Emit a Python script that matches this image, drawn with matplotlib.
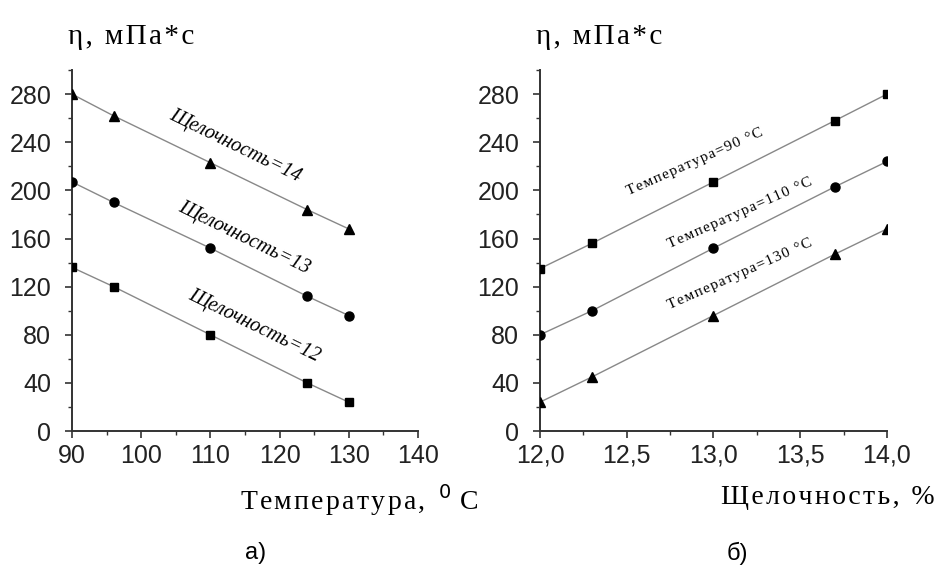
import numpy as np
import matplotlib.pyplot as plt
from matplotlib.ticker import MultipleLocator, FuncFormatter

# panel a) viscosity vs temperature
temp = [90, 96, 110, 124, 130]
alk14 = [280, 262, 223, 184, 168]
alk13 = [207, 190, 152, 112, 96]
alk12 = [136, 120, 80, 40, 24]

# panel b) viscosity vs alkalinity
alk = [12.0, 12.3, 13.0, 13.7, 14.0]
t90 = [135, 156, 207, 258, 280]
t110 = [80, 100, 152, 203, 224]
t130 = [24, 45, 96, 147, 168]

left_labels = ['Щелочность=14', 'Щелочность=13', 'Щелочность=12']
right_labels = ['Температура=90 °C', 'Температура=110 °C', 'Температура=130 °C']

SANS = 'Liberation Sans'
SERIF = 'Liberation Serif'
HAIR = '\u200a'


def spaced(s):
    # wide letter spacing like the scanned original
    return HAIR.join(s)


def style_axes(ax):
    for s in ['top', 'right']:
        ax.spines[s].set_visible(False)
    for s in ['left', 'bottom']:
        ax.spines[s].set_linewidth(1.4)
        ax.spines[s].set_color('#333333')
    ax.set_ylim(0, 300)
    ax.yaxis.set_major_locator(MultipleLocator(40))
    ax.yaxis.set_minor_locator(MultipleLocator(20))
    ax.set_yticks(np.arange(0, 281, 40))
    ax.tick_params(which='major', direction='out', length=5, width=1.2,
                   color='#333333', labelsize=18, labelcolor='#222222')
    ax.tick_params(which='minor', direction='out', length=3, width=1.0,
                   color='#333333')
    ax.xaxis.set_tick_params(which='major', pad=4)
    ax.yaxis.set_tick_params(which='major', pad=10)
    for lab in ax.get_xticklabels() + ax.get_yticklabels():
        lab.set_family(SANS)


def series(ax, x, y, marker, ms):
    ax.plot(x, y, '-', color='#888888', linewidth=1.0, zorder=2)
    ax.plot(x, y, linestyle='none', marker=marker, color='black',
            markersize=ms, zorder=3)


def main():
    fig = plt.figure(facecolor='w', figsize=(9.39, 5.79), dpi=100)

    # ---- a)
    ax1 = fig.add_axes([0.0767, 0.2556, 0.3683, 0.6234])
    series(ax1, temp, alk14, '^', 6.5)
    series(ax1, temp, alk13, 'o', 6.5)
    series(ax1, temp, alk12, 's', 5.5)
    ax1.set_xlim(90, 140)
    ax1.xaxis.set_major_locator(MultipleLocator(10))
    ax1.xaxis.set_minor_locator(MultipleLocator(5))
    style_axes(ax1)

    kw = dict(family=SERIF, style='italic', fontsize=14.5, ha='center',
              va='center', rotation=-26, rotation_mode='anchor')
    ax1.text(113.6, 237, left_labels[0], **kw)
    ax1.text(114.9, 160, left_labels[1], **kw)
    ax1.text(116.4, 87, left_labels[2], **kw)

    # ---- б)
    ax2 = fig.add_axes([0.5751, 0.2556, 0.3695, 0.6234])
    series(ax2, alk, t90, 's', 5.5)
    series(ax2, alk, t110, 'o', 6.5)
    series(ax2, alk, t130, '^', 6.5)
    ax2.set_xlim(12, 14)
    ax2.xaxis.set_major_locator(MultipleLocator(0.5))
    ax2.xaxis.set_minor_locator(MultipleLocator(0.25))
    ax2.xaxis.set_major_formatter(FuncFormatter(lambda v, p: ('%.1f' % v).replace('.', ',')))
    style_axes(ax2)

    kw2 = dict(family=SERIF, fontsize=11, ha='center', va='center',
               rotation=24, rotation_mode='anchor')
    ax2.text(12.89, 224, spaced(right_labels[0]), **kw2)
    ax2.text(13.15, 181, spaced(right_labels[1]), **kw2)
    ax2.text(13.15, 130, spaced(right_labels[2]), **kw2)

    # axis titles
    fig.text(68 / 939, 1 - 37 / 579, spaced('η, мПа*с'), family=SERIF,
             fontsize=21, ha='left', va='center')
    fig.text(536 / 939, 1 - 37 / 579, spaced('η, мПа*с'), family=SERIF,
             fontsize=21, ha='left', va='center')
    fig.text(478 / 939, 1 - 500 / 579, spaced('Температура,') + '  $^{0}$ C',
             family=SERIF, fontsize=20, ha='right', va='center')
    fig.text(935 / 939, 1 - 498 / 579, spaced('Щелочность, %'), family=SERIF,
             fontsize=20, ha='right', va='center')

    fig.text(256 / 939, 1 - 553 / 579, 'а)', family=SANS, fontsize=17,
             ha='center', va='center')
    fig.text(737 / 939, 1 - 553 / 579, 'б)', family=SANS, fontsize=17,
             ha='center', va='center')

    plt.savefig('out.png', dpi=100, facecolor='w')
    plt.close('all')


if __name__ == '__main__':
    main()
